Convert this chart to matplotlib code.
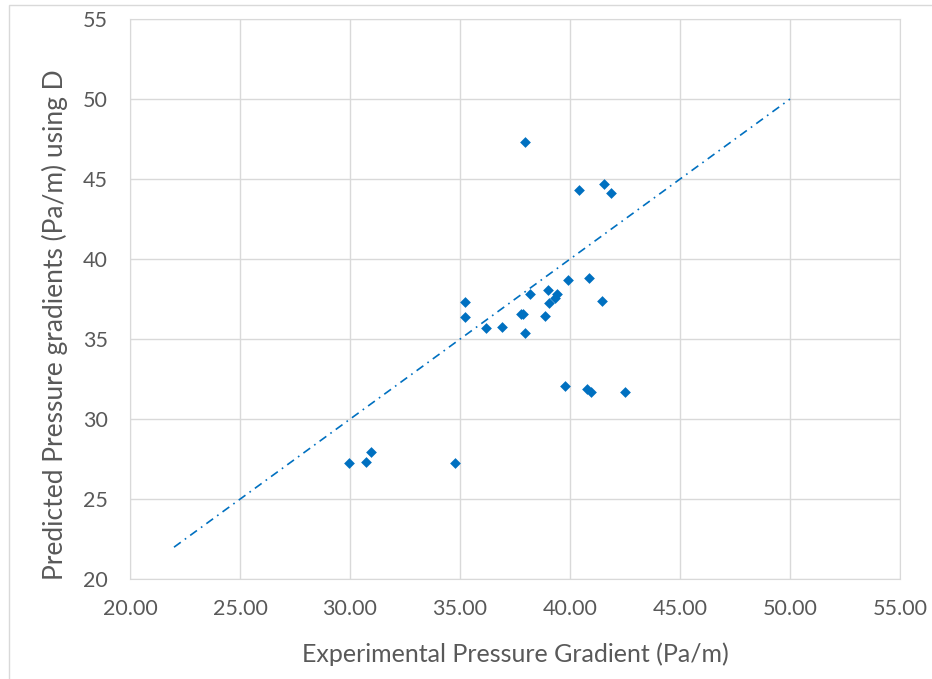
import matplotlib.pyplot as plt
from matplotlib.patches import Rectangle

# experimental vs predicted pressure gradients (Pa/m)
exp_grad = [37.95, 40.42, 41.53, 41.86, 39.91, 40.85, 35.23, 35.23, 36.17, 36.91,
            37.79, 37.86, 37.94, 38.18, 38.85, 39.00, 39.03, 39.33, 39.39, 41.45,
            39.77, 40.76, 40.97, 42.52, 29.97, 30.71, 30.97, 34.76]
pred_grad = [47.31, 44.31, 44.69, 44.13, 38.67, 38.79, 37.33, 36.38, 35.69, 35.77,
             36.54, 36.60, 35.38, 37.81, 36.42, 38.08, 37.25, 37.54, 37.83, 37.40,
             32.10, 31.88, 31.69, 31.69, 27.27, 27.33, 27.94, 27.27]

# 1:1 reference line
ref_line = [22, 50]

xticks = [20, 25, 30, 35, 40, 45, 50, 55]
yticks = [20, 25, 30, 35, 40, 45, 50, 55]

plt.rcParams['font.family'] = ['Lato', 'DejaVu Sans']

fig = plt.figure(figsize=(9.32, 6.79), dpi=100)
# chart area border
fig.patches.append(Rectangle((9 / 932, -0.01), 1.0, 1 - 5 / 679 + 0.01, transform=fig.transFigure,
                             fill=False, edgecolor='#d9d9d9', lw=1))
ax = fig.add_axes([0.1395, 0.147, 0.8262, 0.825])

ax.plot(ref_line, ref_line, color='#0070C0', lw=1.2, dashes=(5, 3, 1, 3))
ax.scatter(exp_grad, pred_grad, marker='D', s=30, color='#0070C0', zorder=3, linewidths=0)

ax.set_xlim(20, 55)
ax.set_ylim(20, 55)
ax.set_xticks(xticks)
ax.set_yticks(yticks)
ax.set_xticklabels([f"{v:.2f}" for v in xticks])
ax.set_yticklabels([str(v) for v in yticks])
ax.grid(True, color='#d9d9d9', lw=1)
ax.set_axisbelow(True)
for s in ax.spines.values():
    s.set_color('#d9d9d9')
ax.tick_params(length=0, labelsize=15.5, colors='#595959')
ax.tick_params(axis='y', pad=16)
ax.tick_params(axis='x', pad=14)

ax.set_xlabel("Experimental Pressure Gradient (Pa/m)", fontsize=18, color='#595959', labelpad=17)
ax.set_ylabel("Predicted Pressure gradients (Pa/m) using D", fontsize=19, color='#595959', labelpad=11)
ax.yaxis.label.set_y(0.455)

fig.savefig("out.png", dpi=100)
